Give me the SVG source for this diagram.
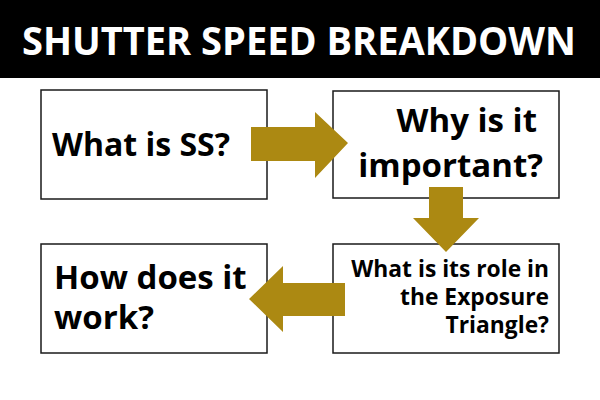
<svg xmlns="http://www.w3.org/2000/svg" width="600" height="400" viewBox="0 0 600 400">
<style>
.box{fill:#fff;stroke:#1a1a1a;stroke-width:1.5}
.t{font-family:"Open Sans","Noto Sans","Liberation Sans",sans-serif;font-weight:700;fill:#000}
.w{fill:#fff}
.arrow{fill:#AC8912}
</style>
<rect x="0" y="0" width="600" height="400" fill="#fff"/>
<g id="title">
<rect x="0" y="0" width="600" height="78" fill="#000"/>
<text class="t w" x="22" y="55" font-size="40" textLength="554" lengthAdjust="spacingAndGlyphs">SHUTTER SPEED BREAKDOWN</text>
</g>
<g id="node1">
<rect class="box" x="41" y="90" width="226" height="109"/>
<text class="t" x="52" y="156" font-size="32">What is SS?</text>
</g>
<g id="node2">
<rect class="box" x="333" y="91" width="226" height="107"/>
<text class="t" x="537" y="132" font-size="33" text-anchor="end">Why is it</text>
<text class="t" x="543" y="177" font-size="33" text-anchor="end">important?</text>
</g>
<g id="node3">
<rect class="box" x="333" y="244" width="226" height="109"/>
<text class="t" x="549" y="277" font-size="22.8" text-anchor="end">What is its role in</text>
<text class="t" x="549" y="305" font-size="22.8" text-anchor="end">the Exposure</text>
<text class="t" x="549" y="333" font-size="22.8" text-anchor="end">Triangle?</text>
</g>
<g id="node4">
<rect class="box" x="41" y="244" width="226" height="109"/>
<text class="t" x="54" y="289" font-size="33">How does it</text>
<text class="t" x="54" y="329" font-size="33">work?</text>
</g>
<g id="connectors">
<polygon class="arrow" points="251,127 315,127 315,112 348,143 315,178 315,161 251,161"/>
<polygon class="arrow" points="429,187 463,187 463,218 479,218 446,252 413,218 429,218"/>
<polygon class="arrow" points="345,283 283,283 283,266 249,299 283,332 283,316 345,316"/>
</g>
</svg>
